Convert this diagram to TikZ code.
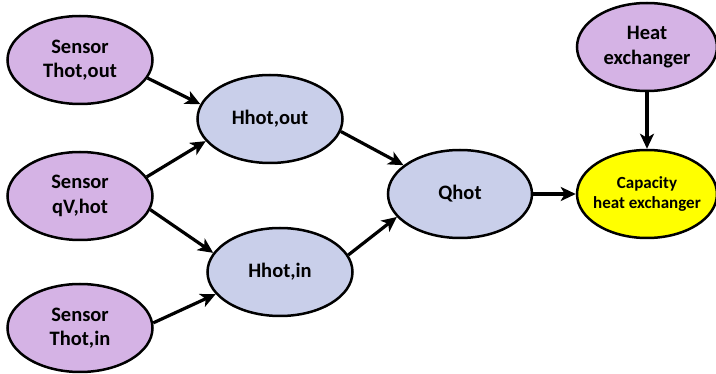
\documentclass[tikz,border=0pt]{standalone}
\usepackage{fontspec}
\setmainfont{Carlito}
\usetikzlibrary{shapes.geometric,arrows.meta}

\definecolor{sensorfill}{RGB}{213,179,229}
\definecolor{calcfill}{RGB}{201,207,234}
\definecolor{capfill}{RGB}{255,255,0}

\tikzset{
  blob/.style={shape=ellipse, draw=black, line width=2.5pt,
    minimum width=145pt, minimum height=88pt, inner sep=-14pt,
    align=center, font=\fontsize{20.5}{24.6}\selectfont\bfseries},
  sensor/.style={blob, fill=sensorfill},
  calc/.style={blob, fill=calcfill},
  capnode/.style={blob, fill=capfill, minimum width=140pt,
    font=\fontsize{17}{20.6}\selectfont\bfseries},
  link/.style={line width=3.2pt, -{Stealth[length=15pt,width=14pt,inset=4pt]}}
}

\begin{document}
\begin{tikzpicture}[x=1pt,y=-1pt]
  \useasboundingbox (0,0) rectangle (716,374);

  % measured inputs
  \node[sensor] (s1) at (80,60)  {Sensor\\Thot,out};
  \node[sensor] (s2) at (80,196) {Sensor\\qV,hot};
  \node[sensor] (s3) at (80,328) {Sensor\\Thot,in};
  \node[sensor, minimum width=140pt] (hx) at (647,47) {Heat\\exchanger};

  % derived quantities
  \node[calc] (hout) at (270,119) {Hhot,out};
  \node[calc] (hin)  at (280,272) {Hhot,in};
  \node[calc, minimum width=144pt] (q) at (460,194) {Qhot};

  % result
  \node[capnode] (cap) at (647,194) {Capacity\\heat exchanger};

  % dependencies
  \draw[link] (s1.-15)    -- (hout.168);
  \draw[link] (s2.16)     -- (hout.199);
  \draw[link] (s2.-11)    -- (hin.164);
  \draw[link] (s3.4)      -- (hin.199);
  \draw[link] (hout.-10)  -- (q.153);
  \draw[link] (hin.14)    -- (q.200);
  \draw[link] (q.east)    -- (cap.west);
  \draw[link] (hx.south)  -- (cap.north);
\end{tikzpicture}
\end{document}
